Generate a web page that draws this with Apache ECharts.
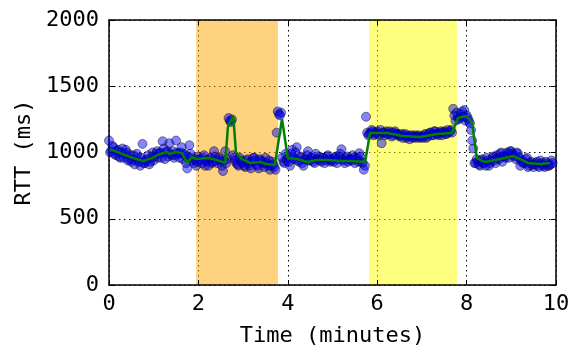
<!DOCTYPE html>
<html>
<head>
<meta charset="utf-8">
<script src="https://cdn.jsdelivr.net/npm/echarts@6/dist/echarts.min.js"></script>
<style>
html,body{margin:0;padding:0;background:#fff;}
#chart{width:573px;height:354px;}
</style>
</head>
<body>
<div id="chart"></div>
<script>
// Sample interval of each RTT probe stream (minutes)
var sampleStep = 0.05;
// Probe stream A: RTT (ms), starting at t = 0
var rttValuesA = [
  1090, 1010, 1040, 980, 1020, 960, 1030, 990, 1000, 950,
  930, 980, 940, 960, 900, 1065, 920, 950, 910, 960,
  940, 990, 960, 1000, 1085, 950, 1010, 1070, 980, 960,
  1090, 990, 1000, 950, 980, 880, 1055, 960, 920, 900,
  970, 940, 960, 900, 930, 950, 920, 1010, 940, 960,
  930, 860, 1010, 950, 1240, 1250, 960, 920, 900, 940,
  920, 890, 950, 900, 930, 960, 910, 880, 940, 920,
  960, 900, 870, 930, 890, 1150, 1290, 1300, 930, 990,
  960, 900, 1020, 950, 1040, 930, 960, 900, 950, 1010,
  940, 960, 920, 950, 970, 930, 960, 940, 980, 930,
  950, 960, 920, 970, 1025, 940, 960, 930, 950, 980,
  920, 960, 995, 930, 870, 1270, 1130, 1150, 1160, 1140,
  1160, 1130, 1070, 1150, 1160, 1140, 1150, 1130, 1160, 1140,
  1120, 1140, 1130, 1110, 1130, 1120, 1110, 1130, 1120, 1110,
  1120, 1130, 1110, 1140, 1150, 1130, 1160, 1140, 1150, 1130,
  1160, 1140, 1150, 1170, 1330, 1240, 1270, 1260, 1310, 1320,
  1280, 1240, 1170, 1030, 920, 930, 900, 950, 920, 960,
  900, 940, 970, 920, 960, 990, 930, 970, 1000, 960,
  1010, 980, 950, 990, 900, 940, 920, 960, 900, 930,
  890, 920, 900, 940, 910, 890, 920, 900, 940
];
// Probe stream B: RTT (ms), starting at t = half a sample step
var rttValuesB = [
  1000, 1050, 990, 1010, 970, 1000, 960, 1020, 940, 980,
  950, 910, 990, 930, 960, 920, 940, 980, 930, 1000,
  970, 1010, 990, 960, 1030, 1000, 970, 990, 1010, 980,
  1000, 960, 1040, 990, 920, 960, 990, 940, 950, 930,
  950, 920, 980, 940, 900, 960, 930, 970, 920, 950,
  900, 940, 920, 1260, 1230, 980, 940, 910, 960, 930,
  900, 940, 920, 880, 960, 940, 900, 950, 930, 890,
  920, 940, 900, 910, 870, 1310, 1280, 960, 920, 940,
  930, 990, 960, 1000, 940, 970, 920, 950, 980, 940,
  960, 930, 990, 950, 940, 960, 920, 970, 950, 940,
  930, 970, 950, 990, 950, 920, 970, 950, 940, 960,
  950, 930, 970, 920, 900, 1150, 1140, 1170, 1130, 1150,
  1140, 1170, 1150, 1130, 1140, 1160, 1120, 1150, 1140, 1130,
  1130, 1110, 1140, 1120, 1100, 1130, 1120, 1110, 1130, 1120,
  1110, 1140, 1120, 1150, 1130, 1160, 1140, 1130, 1160, 1150,
  1140, 1170, 1160, 1150, 1280, 1300, 1250, 1290, 1270, 1240,
  1260, 1220, 1090, 920, 950, 910, 940, 920, 900, 940,
  920, 960, 940, 980, 950, 1000, 970, 960, 990, 1010,
  990, 970, 1000, 960, 930, 920, 950, 890, 920, 910,
  910, 930, 890, 920, 900, 930, 900, 910, 920
];
// Smoothed RTT (green line): times (minutes) and values (ms)
var smoothTimes = [0.02, 0.36, 0.54, 0.76, 0.96, 1.14, 1.30, 1.36, 1.48, 1.63, 1.75, 1.85, 1.96, 2.19, 2.33, 2.48, 2.60, 2.66, 2.78, 2.84, 2.97, 3.15, 3.38, 3.53, 3.71, 3.87, 4.00, 4.20, 4.43, 4.65, 4.88, 5.17, 5.43, 5.73, 5.84, 6.22, 6.58, 6.96, 7.34, 7.67, 7.81, 7.99, 8.12, 8.23, 8.41, 8.52, 8.75, 9.04, 9.19, 9.37, 9.64, 9.87];
var smoothValues = [1026, 981, 958, 936, 958, 989, 1004, 989, 1004, 996, 921, 966, 951, 958, 951, 936, 921, 1192, 1275, 1004, 951, 921, 928, 913, 906, 1253, 958, 951, 928, 943, 943, 936, 936, 928, 1147, 1147, 1124, 1117, 1139, 1147, 1260, 1275, 1230, 958, 928, 936, 951, 973, 951, 921, 913, 921];
// Highlighted periods (minutes)
var bands = [
  {from: 1.95, to: 3.78, color: 'rgba(255,165,0,0.5)'},
  {from: 5.82, to: 7.79, color: 'rgba(255,255,0,0.5)'}
];
var xTicks = [0, 2, 4, 6, 8, 10];
var yTicks = [0, 500, 1000, 1500, 2000];

var FONT = 'DejaVu Sans Mono';
var scatterData = rttValuesA.map(function (v, i) { return [+(i * sampleStep).toFixed(3), v]; })
  .concat(rttValuesB.map(function (v, i) { return [+((i + 0.5) * sampleStep).toFixed(3), v]; }));
var lineData = smoothTimes.map(function (t, i) { return [t, smoothValues[i]]; });

var tickStyle = {show: true, inside: true, length: 5, lineStyle: {color: '#000', width: 1}};
var gridLine = {show: true, lineStyle: {color: '#000', width: 1, type: [1.5, 3.5]}};
var plain = function (v) { return String(v); };

var chart = echarts.init(document.getElementById('chart'), null, {renderer: 'canvas'});
chart.setOption({
  animation: false,
  backgroundColor: '#fff',
  grid: {left: 109, right: 17, top: 20, bottom: 69, containLabel: false, outerBoundsMode: 'none'},
  xAxis: [{
    type: 'value', min: xTicks[0], max: xTicks[xTicks.length - 1], interval: 2,
    z: 1,
    name: 'Time (minutes)', nameLocation: 'middle', nameGap: 40,
    nameTextStyle: {fontFamily: FONT, fontSize: 22, color: '#000'},
    axisLine: {show: true, onZero: false, lineStyle: {color: '#000', width: 1.5}},
    axisTick: tickStyle,
    axisLabel: {fontFamily: FONT, fontSize: 22, color: '#000', margin: 8, formatter: plain},
    splitLine: gridLine
  }, {
    type: 'value', position: 'top', min: xTicks[0], max: xTicks[xTicks.length - 1], interval: 2,
    z: 1,
    axisLine: {show: true, onZero: false, lineStyle: {color: '#000', width: 1.5}},
    axisTick: tickStyle, axisLabel: {show: false}, splitLine: {show: false}
  }],
  yAxis: [{
    type: 'value', min: yTicks[0], max: yTicks[yTicks.length - 1], interval: 500,
    z: 1,
    name: 'RTT (ms)', nameLocation: 'middle', nameGap: 72, nameRotate: 90,
    nameTextStyle: {fontFamily: FONT, fontSize: 22, color: '#000'},
    axisLine: {show: true, onZero: false, lineStyle: {color: '#000', width: 1.5}},
    axisTick: tickStyle,
    axisLabel: {fontFamily: FONT, fontSize: 22, color: '#000', margin: 10, formatter: plain},
    splitLine: gridLine
  }, {
    type: 'value', position: 'right', min: yTicks[0], max: yTicks[yTicks.length - 1], interval: 500,
    z: 1,
    axisLine: {show: true, onZero: false, lineStyle: {color: '#000', width: 1.5}},
    axisTick: tickStyle, axisLabel: {show: false}, splitLine: {show: false}
  }],
  series: [{
    type: 'line', data: [], z: 0, silent: true,
    markArea: {
      silent: true,
      data: bands.map(function (b) {
        return [{xAxis: b.from, itemStyle: {color: b.color}}, {xAxis: b.to}];
      })
    }
  }, {
    type: 'scatter', data: scatterData, z: 2,
    symbol: 'circle', symbolSize: 9,
    itemStyle: {color: 'rgba(0,0,255,0.6)', borderColor: 'rgba(0,0,0,0.55)', borderWidth: 1}
  }, {
    type: 'line', data: lineData, z: 3,
    showSymbol: false, symbol: 'none',
    lineStyle: {color: '#008000', width: 2.5}
  }]
});
</script>
</body>
</html>
